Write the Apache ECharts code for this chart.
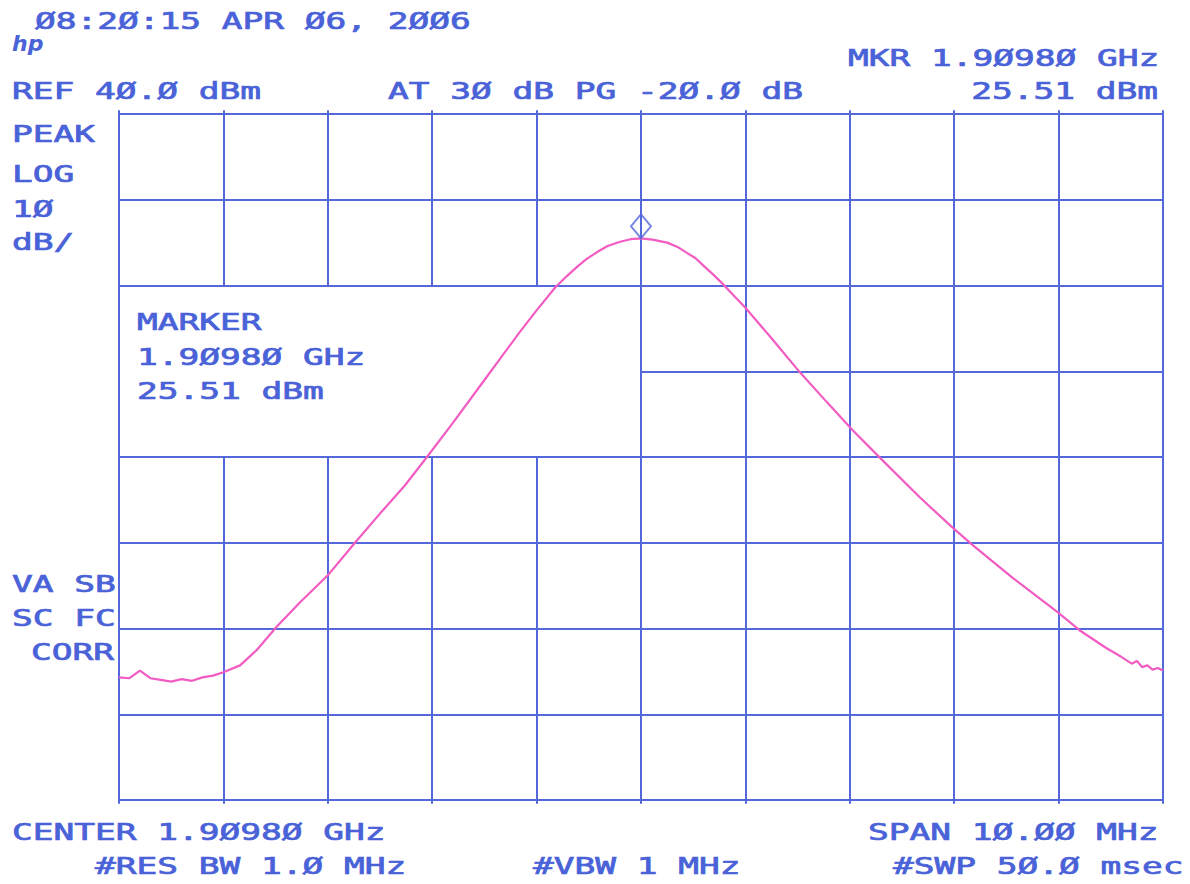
<!DOCTYPE html>
<html>
<head>
<meta charset="utf-8">
<script src="https://cdn.jsdelivr.net/npm/echarts@6/dist/echarts.min.js"></script>
<style>
html,body{margin:0;padding:0;background:#ffffff;}
#chart{width:1190px;height:884px;}
</style>
</head>
<body>
<div id="chart"></div>
<script>
// ---- data (frequency offset from centre 1.90980 GHz, MHz; level, dBm)
const freqOffsetMHz = [
  -5.0, -4.9, -4.8, -4.7, -4.6, -4.5, -4.4, -4.3, -4.2, -4.1, -4.0,
  -3.84, -3.68, -3.49, -3.27, -3.0, -2.74, -2.5, -2.26, -2.05, -1.8,
  -1.48, -1.16, -1.0, -0.82, -0.71, -0.61, -0.52, -0.42, -0.32, -0.2, -0.1, 0.0,
  0.11, 0.25, 0.35, 0.44, 0.52, 0.59, 0.69, 0.79, 1.0, 1.24, 1.52, 1.78, 2.03, 2.29, 2.67, 2.99,
  3.18, 3.56, 3.99, 4.2, 4.46, 4.6, 4.7, 4.75, 4.8, 4.85, 4.9, 4.95, 5.0
];
const levelDbm = [
  -25.7, -25.8, -24.9, -25.8, -26.0, -26.2, -25.9, -26.1, -25.7, -25.5, -25.1,
  -24.3, -22.5, -19.8, -17.0, -13.8, -10.0, -6.6, -3.3, 0.0, 4.0,
  9.3, 14.6, 17.1, 19.8, 21.1, 22.2, 23.1, 23.9, 24.6, 25.1, 25.4, 25.5,
  25.35, 25.0, 24.5, 23.8, 23.2, 22.4, 21.3, 20.1, 17.4, 14.0, 9.9, 6.4, 3.1, -0.1, -4.7, -8.3,
  -10.3, -14.1, -18.1, -20.2, -22.3, -23.3, -24.1, -23.8, -24.5, -24.3, -24.8, -24.6, -24.9
];
const markerFreqMHz = [0.0];
const markerLevelDbm = [25.51];

// graticule: 10 divisions of 1 MHz, 8 divisions of 10 dB (ref 40 dBm)
const xGridMHz = [-5, -4, -3, -2, -1, 0, 1, 2, 3, 4, 5];
const yGridDbm = [-40, -30, -20, -10, 0, 10, 20, 30, 40];
// annotation window (no graticule inside)
const blankFreq = [-5, 0];
const blankLevel = [0, 20];

// ---- texts
const topTexts = ['Ø8:2Ø:15 APR Ø6, 2ØØ6', 'REF 4Ø.Ø dBm', 'AT 3Ø dB PG -2Ø.Ø dB', 'MKR 1.9Ø98Ø GHz', '25.51 dBm'];
const leftTexts = ['PEAK', 'LOG', '1Ø', 'dB/', 'VA SB', 'SC FC', 'CORR'];
const markerTexts = ['MARKER', '1.9Ø98Ø GHz', '25.51 dBm'];
const bottomTexts = ['CENTER 1.9Ø98Ø GHz', '#RES BW 1.Ø MHz', '#VBW 1 MHz', 'SPAN 1Ø.ØØ MHz', '#SWP 5Ø.Ø msec'];
const logoText = 'hp';

const INK = '#4a62d8';
const GRID = '#5468dc';
const TRACE = '#f25cc2';
const FONT = '23px "DejaVu Sans Mono"';
const SX = 1.5;

const xMin = xGridMHz[0], xMax = xGridMHz[xGridMHz.length - 1];
const yMin = yGridDbm[0], yMax = yGridDbm[yGridDbm.length - 1];
const ext = 0.45; // little tick overhang of the vertical lines

const gridSegs = [];
xGridMHz.forEach(function (x) {
  if (x > blankFreq[0] && x < blankFreq[1]) {
    gridSegs.push({coords: [[x, yMin - ext], [x, blankLevel[0]]]});
    gridSegs.push({coords: [[x, blankLevel[1]], [x, yMax + ext]]});
  } else {
    gridSegs.push({coords: [[x, yMin - ext], [x, yMax + ext]]});
  }
});
yGridDbm.forEach(function (y) {
  if (y > blankLevel[0] && y < blankLevel[1]) {
    gridSegs.push({coords: [[blankFreq[1], y], [xMax, y]]});
  } else {
    gridSegs.push({coords: [[xMin, y], [xMax, y]]});
  }
});

const trace = freqOffsetMHz.map(function (f, i) { return [f, levelDbm[i]]; });
const marker = markerFreqMHz.map(function (f, i) { return [f, markerLevelDbm[i]]; });

function txt(s, x, y, align) {
  return {
    type: 'text', x: x, y: y, scaleX: SX, scaleY: 1, silent: true,
    style: {text: s, font: FONT, fill: INK, stroke: INK, lineWidth: 0.7,
            align: align || 'left', verticalAlign: 'middle'}
  };
}

const graphics = [
  txt(topTexts[0], 35, 21),
  txt(topTexts[1], 12, 91),
  txt(topTexts[2], 388, 91),
  txt(topTexts[3], 848, 58),
  txt(topTexts[4], 1158, 91, 'right'),
  txt(leftTexts[0], 12, 134),
  txt(leftTexts[1], 12, 174),
  txt(leftTexts[2], 12, 209),
  txt(leftTexts[3], 12, 242),
  txt(leftTexts[4], 12, 584),
  txt(leftTexts[5], 12, 618),
  txt(leftTexts[6], 31, 652),
  txt(markerTexts[0], 137, 322),
  txt(markerTexts[1], 137, 357),
  txt(markerTexts[2], 137, 391),
  txt(bottomTexts[0], 12, 832),
  txt(bottomTexts[1], 95, 866),
  txt(bottomTexts[2], 533, 866),
  txt(bottomTexts[3], 868, 832),
  txt(bottomTexts[4], 893, 866),
  {
    type: 'text', x: 12, y: 43, silent: true,
    style: {text: logoText, font: 'italic bold 22px "DejaVu Sans"', fill: INK, align: 'left', verticalAlign: 'middle'}
  }
];

const chart = echarts.init(document.getElementById('chart'), null, {renderer: 'svg'});
chart.setOption({
  backgroundColor: '#ffffff',
  animation: false,
  grid: {left: 119, top: 114, right: 27, bottom: 84, containLabel: false},
  xAxis: {
    type: 'value', min: xMin, max: xMax, interval: 1,
    axisLine: {show: false}, axisTick: {show: false}, axisLabel: {show: false}, splitLine: {show: false}
  },
  yAxis: {
    type: 'value', min: yMin, max: yMax, interval: 10,
    axisLine: {show: false}, axisTick: {show: false}, axisLabel: {show: false}, splitLine: {show: false}
  },
  graphic: graphics,
  series: [
    {
      type: 'lines', coordinateSystem: 'cartesian2d', silent: true, clip: false, z: 1,
      lineStyle: {color: GRID, width: 2, opacity: 1},
      data: gridSegs
    },
    {
      type: 'line', data: trace, symbol: 'none', silent: true, z: 3,
      smooth: false,
      lineStyle: {color: TRACE, width: 2.2}
    },
    {
      type: 'scatter', data: marker, symbol: 'diamond', symbolSize: [20, 24], symbolOffset: [0, -12],
      silent: true, z: 4,
      itemStyle: {color: 'rgba(0,0,0,0)', borderColor: GRID, borderWidth: 2}
    }
  ]
});
</script>
</body>
</html>
